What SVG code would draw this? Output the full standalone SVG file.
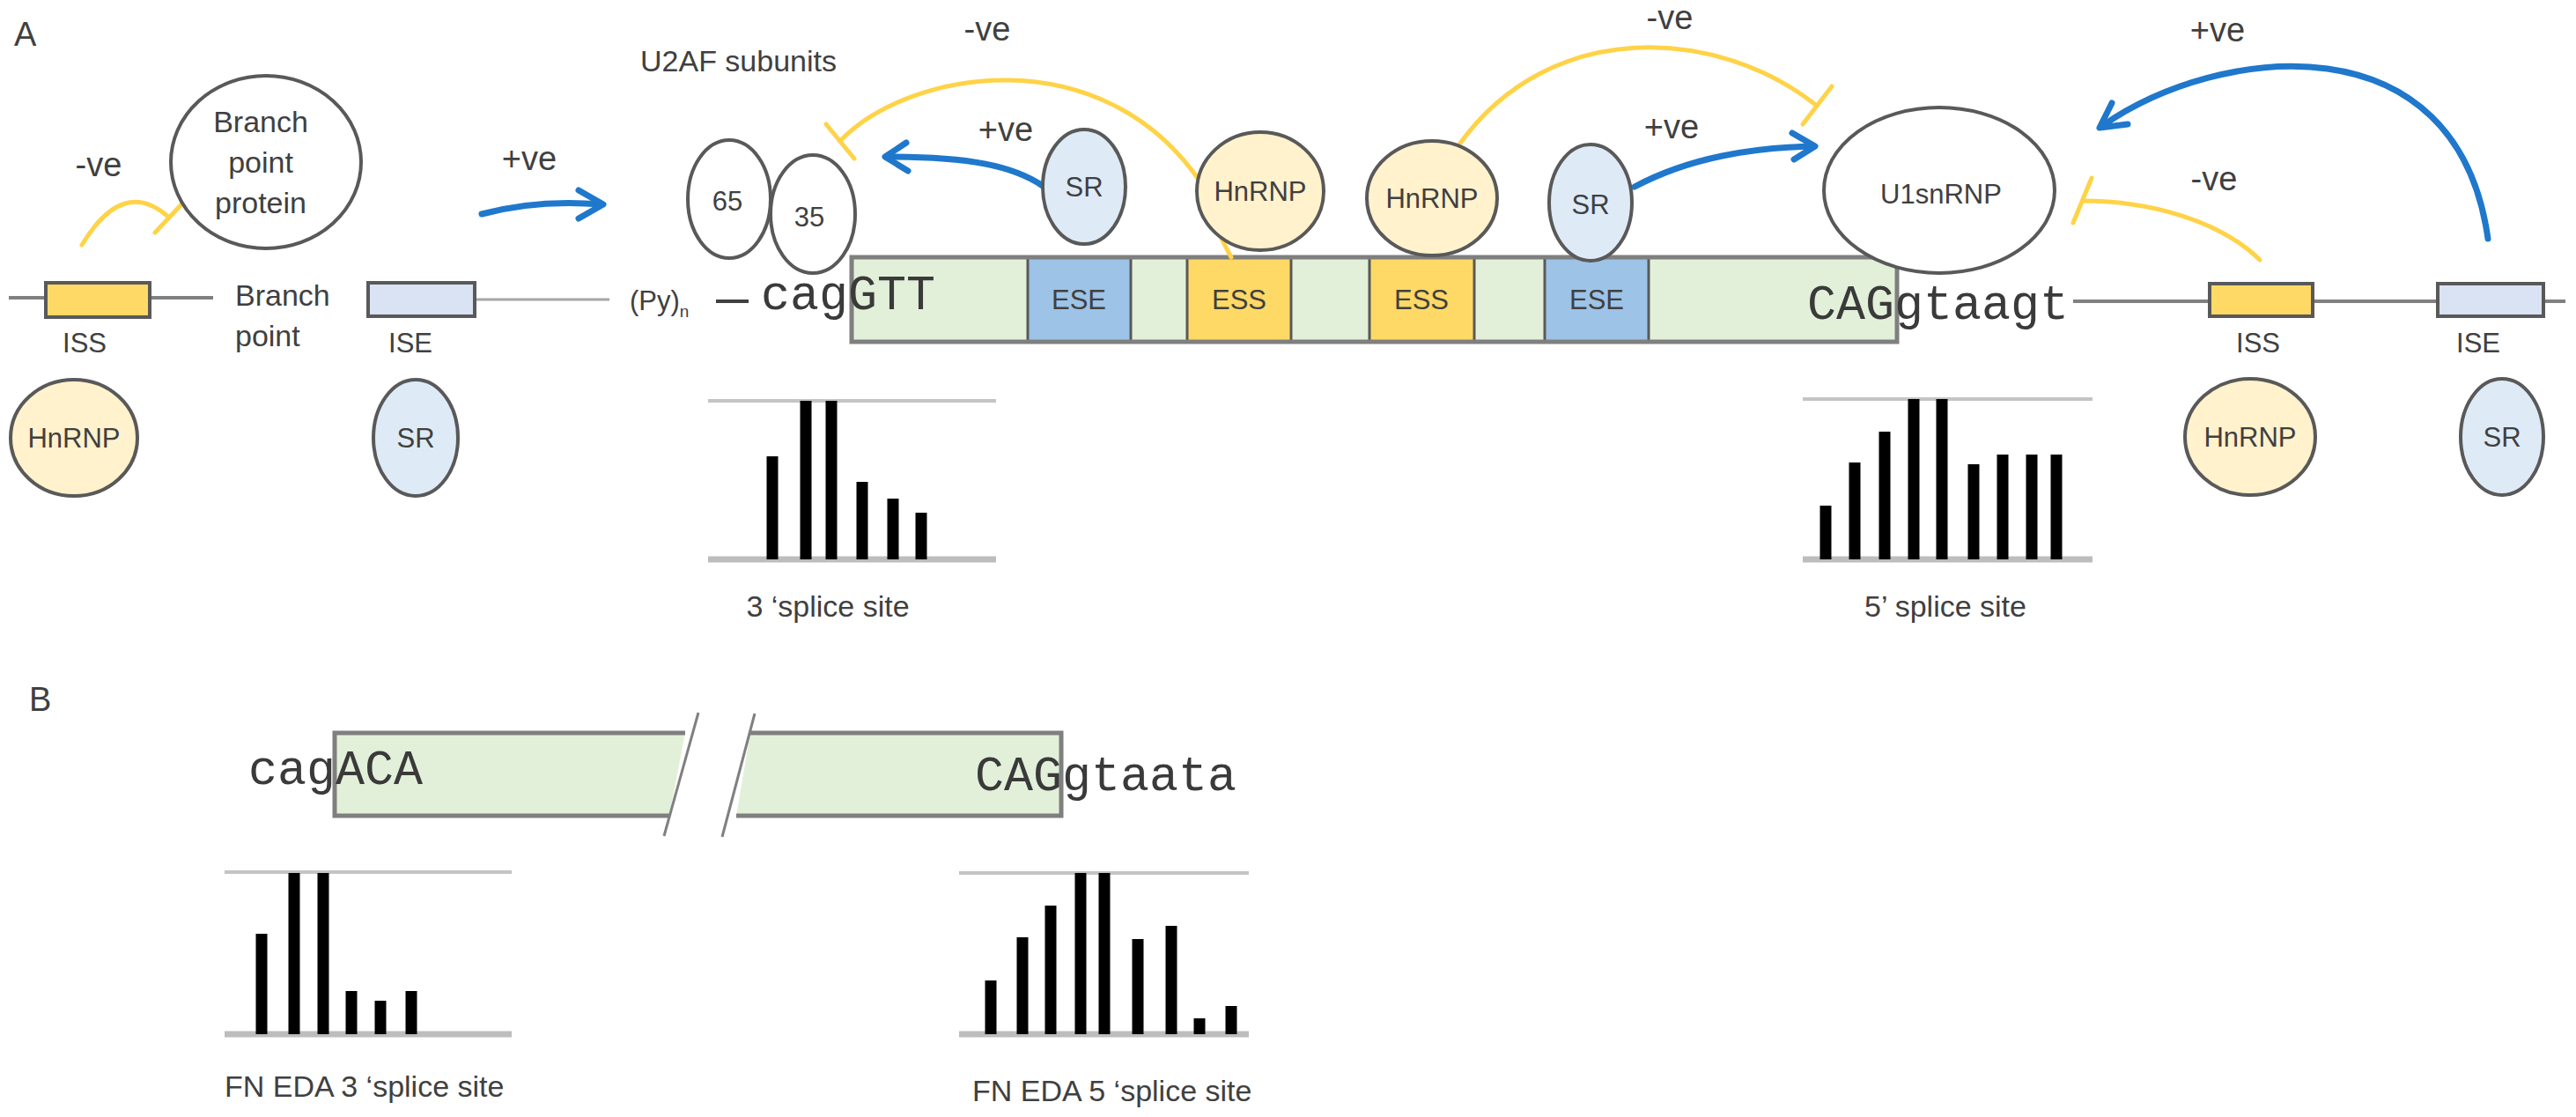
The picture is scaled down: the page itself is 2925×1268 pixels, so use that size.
<svg xmlns="http://www.w3.org/2000/svg" width="2925" height="1268" viewBox="0 0 2925 1268">
<style>
text{font-family:"Liberation Sans",Arial,sans-serif;fill:#404040}
.t{font-size:34px}
.s{font-size:31px}
.c{text-anchor:middle;dominant-baseline:central}
.m{text-anchor:middle}
.ve{font-size:38px;text-anchor:middle}
.mono{font-family:"Liberation Mono","Courier New",monospace;font-size:55px;fill:#3a3a3a}
.node{stroke:#595959;stroke-width:4}
.hn{fill:#fff2cc}.sr{fill:#deebf7}.wh{fill:#fff}
.yel{fill:none;stroke:#ffd347;stroke-width:5;stroke-linecap:round}
.blu{fill:none;stroke:#1f78cc;stroke-width:7;stroke-linecap:round;stroke-linejoin:round}
.grn{fill:#e2f0d9}.ese{fill:#9dc3e6}.ess{fill:#ffd966}.ise{fill:#dae3f3}
.seg{stroke:#595959;stroke-width:3}
.edge{fill:none;stroke:#7f7f7f;stroke-width:5}
.intron{stroke:#808080;stroke-width:4}
.thin{stroke:#a6a6a6;stroke-width:3}
.ptop{stroke:#c4c4c4;stroke-width:4}
.pbot{stroke:#bdbdbd;stroke-width:7}
.bar{stroke:#000;stroke-width:13}
</style>

<!-- panel labels -->
<text x="16" y="52" style="font-size:38px">A</text>
<text x="33" y="807" style="font-size:38px">B</text>

<!-- intron lines and boxes -->
<g id="intron-left">
  <line class="intron" x1="10" y1="338" x2="242" y2="338"/>
  <rect x="52" y="321" width="118" height="39" class="ess" stroke="#595959" stroke-width="4"/>
  <line class="thin" x1="539" y1="340" x2="692" y2="340"/>
  <rect x="418" y="321" width="121" height="38" class="ise" stroke="#595959" stroke-width="4"/>
  <line x1="813" y1="342" x2="850" y2="342" stroke="#404040" stroke-width="4"/>
</g>
<g id="intron-right">
  <line class="intron" x1="2354" y1="342" x2="2913" y2="342"/>
  <rect x="2509" y="322" width="117" height="37" class="ess" stroke="#595959" stroke-width="4"/>
  <rect x="2768" y="322" width="120" height="37" class="ise" stroke="#595959" stroke-width="4"/>
</g>

<!-- exon A -->
<g id="exonA">
  <rect x="967" y="292" width="200" height="96" class="grn"/>
  <rect x="1167" y="292" width="117" height="96" class="ese"/>
  <rect x="1284" y="292" width="64" height="96" class="grn"/>
  <rect x="1348" y="292" width="118" height="96" class="ess"/>
  <rect x="1466" y="292" width="89" height="96" class="grn"/>
  <rect x="1555" y="292" width="119" height="96" class="ess"/>
  <rect x="1674" y="292" width="80" height="96" class="grn"/>
  <rect x="1754" y="292" width="118" height="96" class="ese"/>
  <rect x="1872" y="292" width="282" height="96" class="grn"/>
  <g class="seg">
    <line x1="1167" y1="292" x2="1167" y2="388"/><line x1="1284" y1="292" x2="1284" y2="388"/>
    <line x1="1348" y1="292" x2="1348" y2="388"/><line x1="1466" y1="292" x2="1466" y2="388"/>
    <line x1="1555" y1="292" x2="1555" y2="388"/><line x1="1674" y1="292" x2="1674" y2="388"/>
    <line x1="1754" y1="292" x2="1754" y2="388"/><line x1="1872" y1="292" x2="1872" y2="388"/>
  </g>
  <rect x="967" y="292" width="1187" height="96" class="edge"/>
  <text class="s c" x="1225" y="340">ESE</text>
  <text class="s c" x="1407" y="340">ESS</text>
  <text class="s c" x="1614" y="340">ESS</text>
  <text class="s c" x="1813" y="340">ESE</text>
</g>

<!-- sequences -->
<text class="mono" x="864" y="351">cagGTT</text>
<text class="mono" x="2052" y="362">CAGgtaagt</text>
<text x="715" y="352" style="font-size:31px">(Py)<tspan dy="8" style="font-size:19px">n</tspan></text>

<!-- connectors -->
<g id="connectors">
  <path class="yel" d="M93,278 Q140,200 192,247"/>
  <line class="yel" x1="176" y1="264" x2="208" y2="230"/>
  <path class="blu" d="M547,243 Q610,226 683,232"/>
  <polyline class="blu" points="657,216 685,232 657,248"/>
  <path class="yel" d="M1398,292 Q1370,240 1364,208 C1250,40 1030,80 954,160"/>
  <line class="yel" x1="938" y1="141" x2="970" y2="180"/>
  <path class="blu" d="M1184,211 C1150,188 1100,178 1008,178"/>
  <polyline class="blu" points="1029,162 1005,178 1031,194"/>
  <path class="yel" d="M1657,164 C1760,20 1950,30 2063,120"/>
  <line class="yel" x1="2080" y1="98" x2="2047" y2="141"/>
  <path class="blu" d="M1856,212 C1920,178 1990,168 2058,166"/>
  <polyline class="blu" points="2035,151 2061,166 2037,181"/>
  <path class="blu" d="M2825,271 C2790,20 2520,50 2387,143"/>
  <polyline class="blu" points="2398,117 2384,145 2416,141"/>
  <path class="yel" d="M2566,295 C2520,250 2440,228 2365,228"/>
  <line class="yel" x1="2375" y1="202" x2="2354" y2="253"/>
</g>

<!-- nodes -->
<g id="branch-protein">
  <ellipse class="node wh" cx="302" cy="184" rx="108" ry="98"/>
  <text class="t m" x="296" y="150">Branch</text>
  <text class="t m" x="296" y="196">point</text>
  <text class="t m" x="296" y="242">protein</text>
</g>
<g id="hnrnp-left"><ellipse class="node hn" cx="84" cy="497" rx="72" ry="66"/><text class="s c" x="84" y="497">HnRNP</text></g>
<g id="sr-left"><ellipse class="node sr" cx="472" cy="497" rx="48" ry="66"/><text class="s c" x="472" y="497">SR</text></g>
<g id="u2af65"><ellipse class="node wh" cx="828" cy="226" rx="47" ry="67"/><text class="s c" x="826" y="228">65</text></g>
<g id="u2af35"><ellipse class="node wh" cx="923" cy="243" rx="48" ry="67"/><text class="s c" x="919" y="246">35</text></g>
<g id="sr-1"><ellipse class="node sr" cx="1231" cy="212" rx="47" ry="65"/><text class="s c" x="1231" y="212">SR</text></g>
<g id="hnrnp-1"><ellipse class="node hn" cx="1431" cy="217" rx="72" ry="67"/><text class="s c" x="1431" y="217">HnRNP</text></g>
<g id="hnrnp-2"><ellipse class="node hn" cx="1626" cy="225" rx="74" ry="65"/><text class="s c" x="1626" y="225">HnRNP</text></g>
<g id="sr-2"><ellipse class="node sr" cx="1806" cy="230" rx="47" ry="66"/><text class="s c" x="1806" y="232">SR</text></g>
<g id="u1snrnp"><ellipse class="node wh" cx="2202" cy="216" rx="131" ry="94"/><text class="s c" x="2204" y="220">U1snRNP</text></g>
<g id="hnrnp-right"><ellipse class="node hn" cx="2555" cy="496" rx="74" ry="66"/><text class="s c" x="2555" y="496">HnRNP</text></g>
<g id="sr-right"><ellipse class="node sr" cx="2841" cy="496" rx="47" ry="66"/><text class="s c" x="2841" y="496">SR</text></g>

<!-- labels -->
<text class="t" x="727" y="81">U2AF subunits</text>
<text class="ve" x="112" y="200">-ve</text>
<text class="ve" x="601" y="193">+ve</text>
<text class="ve" x="1121" y="46">-ve</text>
<text class="ve" x="1142" y="160">+ve</text>
<text class="ve" x="1896" y="33">-ve</text>
<text class="ve" x="1898" y="157">+ve</text>
<text class="ve" x="2518" y="47">+ve</text>
<text class="ve" x="2514" y="216">-ve</text>
<text class="t" x="267" y="347">Branch</text>
<text class="t" x="267" y="393">point</text>
<text class="s c" x="96" y="389">ISS</text>
<text class="s c" x="466" y="389">ISE</text>
<text class="s c" x="2564" y="389">ISS</text>
<text class="s c" x="2814" y="389">ISE</text>

<!-- 3' splice site plot A -->
<g id="plot-a3">
  <line class="ptop" x1="804" y1="455" x2="1131" y2="455"/>
  <line class="pbot" x1="804" y1="635" x2="1131" y2="635"/>
  <g class="bar">
    <line x1="877" y1="518" x2="877" y2="635"/><line x1="915" y1="455" x2="915" y2="635"/>
    <line x1="944" y1="455" x2="944" y2="635"/><line x1="979" y1="547" x2="979" y2="635"/>
    <line x1="1014" y1="566" x2="1014" y2="635"/><line x1="1046" y1="582" x2="1046" y2="635"/>
  </g>
  <text class="t m" x="940" y="700">3 ‘splice site</text>
</g>

<!-- 5' splice site plot A -->
<g id="plot-a5">
  <line class="ptop" x1="2047" y1="453" x2="2376" y2="453"/>
  <line class="pbot" x1="2047" y1="635" x2="2376" y2="635"/>
  <g class="bar">
    <line x1="2073" y1="574" x2="2073" y2="635"/><line x1="2106" y1="525" x2="2106" y2="635"/>
    <line x1="2140" y1="490" x2="2140" y2="635"/><line x1="2173" y1="453" x2="2173" y2="635"/>
    <line x1="2205" y1="453" x2="2205" y2="635"/><line x1="2241" y1="527" x2="2241" y2="635"/>
    <line x1="2274" y1="516" x2="2274" y2="635"/><line x1="2307" y1="516" x2="2307" y2="635"/>
    <line x1="2335" y1="516" x2="2335" y2="635"/>
  </g>
  <text class="t m" x="2209" y="700">5’ splice site</text>
</g>

<!-- panel B exon -->
<g id="exonB">
  <polygon class="grn" points="380,832 778,832 760,926 380,926"/>
  <polyline class="edge" points="778,832 380,832 380,926 760,926"/>
  <polygon class="grn" points="852,832 1205,832 1205,926 836,926"/>
  <polyline class="edge" points="852,832 1205,832 1205,926 836,926"/>
  <line x1="793" y1="809" x2="754" y2="949" stroke="#808080" stroke-width="3"/>
  <line x1="857" y1="810" x2="820" y2="950" stroke="#808080" stroke-width="3"/>
</g>
<text class="mono" x="282" y="890">cagACA</text>
<text class="mono" x="1107" y="897">CAGgtaata</text>

<g id="plot-b3">
  <line class="ptop" x1="255" y1="990" x2="581" y2="990"/>
  <line class="pbot" x1="255" y1="1174" x2="581" y2="1174"/>
  <g class="bar">
    <line x1="297" y1="1060" x2="297" y2="1174"/><line x1="334" y1="991" x2="334" y2="1174"/>
    <line x1="367" y1="991" x2="367" y2="1174"/><line x1="399" y1="1125" x2="399" y2="1174"/>
    <line x1="432" y1="1136" x2="432" y2="1174"/><line x1="467" y1="1125" x2="467" y2="1174"/>
  </g>
  <text class="t" x="255" y="1245">FN EDA 3 ‘splice site</text>
</g>

<g id="plot-b5">
  <line class="ptop" x1="1089" y1="991" x2="1418" y2="991"/>
  <line class="pbot" x1="1089" y1="1174" x2="1418" y2="1174"/>
  <g class="bar">
    <line x1="1125" y1="1113" x2="1125" y2="1174"/><line x1="1161" y1="1064" x2="1161" y2="1174"/>
    <line x1="1193" y1="1028" x2="1193" y2="1174"/><line x1="1227" y1="991" x2="1227" y2="1174"/>
    <line x1="1254" y1="991" x2="1254" y2="1174"/><line x1="1292" y1="1066" x2="1292" y2="1174"/>
    <line x1="1330" y1="1051" x2="1330" y2="1174"/><line x1="1362" y1="1156" x2="1362" y2="1174"/>
    <line x1="1398" y1="1142" x2="1398" y2="1174"/>
  </g>
  <text class="t" x="1104" y="1250">FN EDA 5 ‘splice site</text>
</g>
</svg>
